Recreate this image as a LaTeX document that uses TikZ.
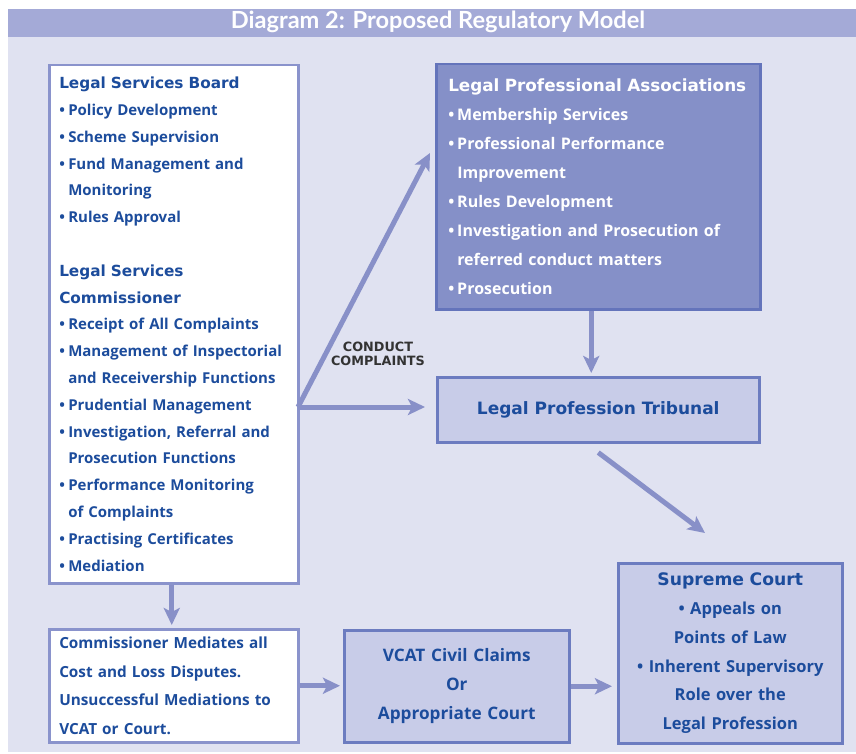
\documentclass[tikz,border=0pt]{standalone}
\usepackage{fontspec}
\setmainfont{Open Sans}
\newfontfamily\titlefont{Lato}
\newfontfamily\heavyfont{DejaVu Sans}
\usetikzlibrary{
  arrows.meta,
  positioning,
}
\definecolor{panelbg}{HTML}{E0E2F1}
\definecolor{titlebg}{HTML}{A4AAD7}
\definecolor{textblue}{HTML}{1C4C9C}
\definecolor{whiteline}{HTML}{8A93CC}
\definecolor{darkfill}{HTML}{8590C8}
\definecolor{darkline}{HTML}{6474BB}
\definecolor{lightfill}{HTML}{C8CCE8}
\definecolor{lightline}{HTML}{6C7CC0}
\definecolor{arrowblue}{HTML}{8890C8}
\newcommand{\lsitem}[1]{\makebox[9pt][l]{•}#1}
\newcommand{\lscont}[1]{\hspace*{9pt}#1}
\newcommand{\lshead}[3]{{\heavyfont\bfseries\fontsize{#1}{#2}\selectfont #3}}

\begin{document}
\begin{tikzpicture}[
  x=1pt, y=-1pt,
  whitebox/.style={draw=whiteline, fill=white, line width=2.5pt, anchor=north west,
    inner ysep=0pt, inner xsep=10pt, align=left, text=textblue},
  darkbox/.style={draw=darkline, fill=darkfill, line width=2.5pt, anchor=north west,
    inner ysep=0pt, inner xsep=12pt, align=left, text=white},
  lightbox/.style={draw=lightline, fill=lightfill, line width=2.5pt, anchor=north west,
    inner ysep=0pt, inner xsep=4pt, align=center, text=textblue},
  flow/.style={draw=arrowblue, line width=5pt,
    -{Stealth[length=17pt, width=16pt, inset=4pt]}}
]
\useasboundingbox (0,0) rectangle (856,754);
\fill[panelbg] (8,37) rectangle (856,752);
\fill[titlebg] (8,9) rectangle (856,37);
\node[text=white, inner sep=0pt, font=\titlefont\bfseries\fontsize{23.6}{24}\selectfont] (title) at (438,22)
  {Diagram 2: Proposed Regulatory Model};

% left column
\node[whitebox, text width=229pt, minimum height=518pt,
  font=\bfseries\fontsize{15}{26.8}\selectfont] (lsb) at (48,64)
  {\lshead{15.3}{26.8}{Legal Services Board}\\
   \lsitem{Policy Development}\\
   \lsitem{Scheme Supervision}\\
   \lsitem{Fund Management and}\\
   \lscont{Monitoring}\\
   \lsitem{Rules Approval}\\[26.8pt]
   \lshead{15.3}{26.8}{Legal Services}\\
   \lshead{15.3}{26.8}{Commissioner}\\
   \lsitem{Receipt of All Complaints}\\
   \lsitem{Management of Inspectorial}\\
   \lscont{and Receivership Functions}\\
   \lsitem{Prudential Management}\\
   \lsitem{Investigation, Referral and}\\
   \lscont{Prosecution Functions}\\
   \lsitem{Performance Monitoring}\\
   \lscont{of Complaints}\\
   \lsitem{Practising Certificates}\\
   \lsitem{Mediation}};
\node[whitebox, text width=229pt, minimum height=113pt,
  font=\bfseries\fontsize{15.3}{28.7}\selectfont] (med) at (48,628)
  {Commissioner Mediates all\\
   Cost and Loss Disputes.\\
   Unsuccessful Mediations to\\
   VCAT or Court.};

% right column
\node[darkbox, text width=300pt, minimum height=245pt,
  font=\bfseries\fontsize{16}{29}\selectfont] (lpa) at (435,63)
  {\lshead{16.8}{29}{Legal Professional Associations}\\
   \lsitem{Membership Services}\\
   \lsitem{Professional Performance}\\
   \lscont{Improvement}\\
   \lsitem{Rules Development}\\
   \lsitem{Investigation and Prosecution of}\\
   \lscont{referred conduct matters}\\
   \lsitem{Prosecution}};
\node[lightbox, minimum width=322pt, minimum height=65pt,
  font=\heavyfont\bfseries\fontsize{17}{29}\selectfont] (trib) at (436,376)
  {Legal Profession Tribunal};
\node[lightbox, text width=217pt, minimum height=112pt,
  font=\bfseries\fontsize{17.2}{29}\selectfont] (vcat) at (343,629)
  {VCAT Civil Claims\\ Or\\ Appropriate Court};
\node[lightbox, text width=216pt, minimum height=180pt,
  font=\bfseries\fontsize{16.5}{28.8}\selectfont] (sc) at (617,562)
  {\lshead{17.2}{28.8}{Supreme Court}\\
   • Appeals on\\
   Points of Law\\
   • Inherent Supervisory\\
   Role over the\\
   Legal Profession};

\node[font=\heavyfont\bfseries\fontsize{12.8}{14}\selectfont, text=black!80, align=center] (cc) at (378,354)
  {CONDUCT\\COMPLAINTS};

% connectors
\coordinate (fork) at (298,407);
\coordinate (lpatip) at (430,153);
\coordinate (sctip) at (705,533);
\draw[flow] (fork) -- (lpatip);
\draw[flow, shorten >=11pt] (fork) -- (trib.west |- fork);
\draw[flow, shorten >=3pt] ([xshift=-7pt]lpa.south) -- ([xshift=-7pt]trib.north);
\draw[flow] ([yshift=-9pt]trib.south) -- (sctip);
\draw[flow, shorten >=3pt] ([xshift=-2pt]lsb.south) -- ([xshift=-2pt]med.north);
\draw[flow, shorten >=3pt] (med.east) -- (vcat.west |- med.east);
\draw[flow, shorten >=5pt] (vcat.east) -- (sc.west |- vcat.east);
\end{tikzpicture}
\end{document}
